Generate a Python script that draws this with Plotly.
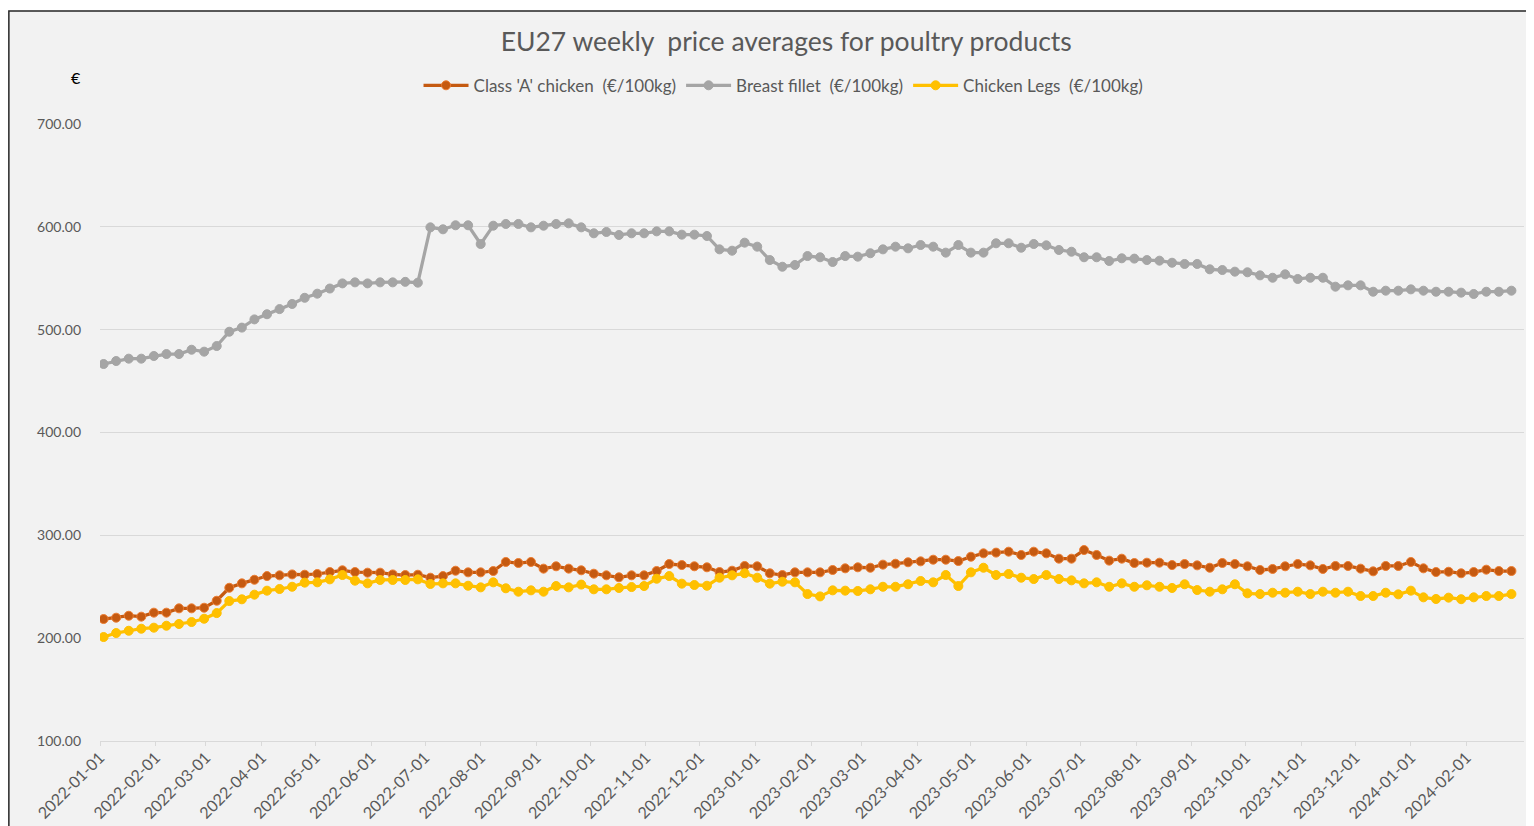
"""EU27 weekly poultry price averages."""

import pandas as pd
import plotly.graph_objects as go

weeks = pd.date_range("2022-01-03", periods=113, freq="7D")

class_a = [
    218.6, 219.9, 221.8, 220.9, 224.8, 224.8, 229.0, 229.0, 229.6, 236.4,
    249.0, 253.3, 256.8, 260.4, 261.1, 262.0, 261.7, 262.4, 264.3, 266.0,
    264.3, 263.7, 263.7, 262.0, 261.4, 261.7, 258.8, 260.4, 265.6,
    264.0, 264.0, 265.3, 274.1, 273.1, 274.1, 267.6, 269.9, 267.6, 266.0,
    262.7, 261.1, 259.2, 261.1, 261.1, 265.3, 272.1, 271.1, 269.9, 268.9,
    264.3, 265.6, 270.2, 269.9, 263.1, 261.4, 264.0, 264.0, 264.0,
    266.3, 267.9, 268.9, 268.5, 271.5, 272.4, 273.8, 274.7, 276.3, 276.3,
    275.0, 279.2, 282.5, 283.2, 284.1, 280.9, 284.1, 282.5, 277.3, 277.3,
    285.7, 280.9, 275.4, 277.3, 273.1, 273.4, 273.4,
    271.1, 272.1, 270.8, 268.5, 273.1, 272.1, 269.9, 266.3, 267.3, 269.9,
    272.1, 270.8, 267.3, 270.2, 270.2, 267.6, 265.0, 270.2, 270.2, 274.1,
    267.9, 264.3, 264.6, 263.1, 264.3, 266.6, 265.3, 265.3,
]

breast_fillet = [
    466.6, 469.5, 471.8, 471.8, 474.4, 476.3, 476.3, 480.5, 478.6, 484.1,
    498.0, 502.0, 510.0, 515.0, 520.0, 525.0, 531.0, 535.0, 540.0, 545.0,
    546.0, 545.0, 546.0, 546.0,
    546.5, 545.7, 599.5, 597.6, 601.5, 601.5, 583.3, 601.1, 602.8, 602.8,
    599.5, 601.1, 602.8, 603.4, 599.5, 593.7, 595.0, 592.1, 593.7, 593.7,
    595.6, 595.6, 592.4, 592.4, 591.1, 578.1, 576.8, 584.6, 580.7, 567.7,
    561.2, 562.9,
    571.6, 570.4, 565.8, 571.6, 571.0, 574.3, 578.1, 580.7, 579.1, 582.3,
    580.7, 574.9, 582.3, 574.9, 574.9, 584.0, 584.0, 579.7, 583.3, 582.0,
    577.5, 575.8, 570.4, 570.4, 566.8, 569.4, 569.1, 567.7, 567.1,
    565.1, 563.9, 563.9, 558.7, 558.0, 556.4, 555.8, 552.8, 550.5, 553.8,
    549.3, 550.5, 550.5, 541.8, 543.1, 543.1, 536.9, 537.9, 537.9, 539.2,
    537.9, 536.9, 536.9, 536.0, 534.7, 536.9, 536.9, 537.9,
]

chicken_legs = [
    201.1, 205.0, 207.2, 209.2, 210.2, 212.1, 213.8, 215.7, 218.9, 224.4,
    236.1, 237.8, 242.3, 246.2, 247.8, 250.0, 254.0, 254.3, 257.2, 261.4,
    255.9, 253.3, 256.6, 256.6, 256.6, 257.2, 252.7, 253.3, 253.3,
    251.0, 249.4, 254.3, 248.5, 245.2, 246.5, 245.2, 250.7, 249.4, 252.1,
    247.5, 247.5, 248.8, 249.7, 250.7, 257.8, 260.4, 253.0, 251.7, 251.0,
    258.8, 261.1, 263.1, 258.8, 253.0, 254.9, 254.3, 242.9, 240.6,
    246.5, 246.2, 245.9, 247.5, 250.0, 250.0, 252.4, 255.6, 254.3, 261.4,
    250.7, 264.0, 268.5, 261.4, 262.4, 258.8, 257.5, 261.4, 257.5, 256.2,
    253.3, 254.3, 250.0, 253.3, 250.0, 251.4, 250.0,
    248.8, 252.4, 246.8, 245.2, 247.5, 252.4, 243.6, 242.9, 244.2, 244.2,
    245.2, 242.9, 245.2, 244.2, 245.2, 241.0, 241.0, 244.2, 242.6, 246.2,
    239.7, 238.1, 239.4, 237.9, 239.7, 241.0, 241.0, 242.9,
]

month_ticks = pd.date_range("2022-01-01", "2024-02-01", freq="MS")

FONT = "Lato"
GREY = "#595959"

# the page body has an 8px margin, so the figure is sized to what is left
W, H = 1526, 818

fig = go.Figure()
series = [
    ("Class 'A' chicken  (€/100kg)", class_a, "#c55a11", "#ed7d31"),
    ("Breast fillet  (€/100kg)", breast_fillet, "#a5a5a5", "#a5a5a5"),
    ("Chicken Legs  (€/100kg)", chicken_legs, "#ffc000", "#ffc000"),
]
for name, values, color, edge in series:
    fig.add_trace(
        go.Scatter(
            x=weeks,
            y=values,
            name=name,
            mode="lines+markers",
            line=dict(color=color, width=3.25),
            marker=dict(size=9, color=color, line=dict(color=edge, width=1)),
        )
    )

fig.add_shape(
    type="rect",
    xref="paper",
    yref="paper",
    x0=-0.064,
    x1=1.05,
    y0=-0.3,
    y1=1.183,
    fillcolor="#f2f2f2",
    line=dict(color="#262626", width=1.5),
    layer="below",
)
fig.add_annotation(
    text="€",
    xref="paper",
    yref="paper",
    x=-0.017,
    y=1.0746,
    xanchor="center",
    yanchor="middle",
    showarrow=False,
    font=dict(family=FONT, size=16, color="#000000"),
)

fig.update_layout(
    width=W,
    height=H,
    margin=dict(l=92, r=10, t=116, b=85),
    paper_bgcolor="#ffffff",
    plot_bgcolor="rgba(0,0,0,0)",
    font=dict(family=FONT, color=GREY, size=13),
    title=dict(
        text="EU27 weekly  price averages for poultry products",
        x=0.51,
        xanchor="center",
        y=1 - 34 / H,
        yanchor="middle",
        font=dict(family=FONT, size=26.5, color=GREY),
    ),
    legend=dict(
        orientation="h",
        x=0.48,
        xanchor="center",
        y=1.062,
        yanchor="middle",
        font=dict(family=FONT, size=17, color=GREY),
        bgcolor="rgba(0,0,0,0)",
        itemwidth=45,
    ),
    showlegend=True,
    xaxis=dict(
        type="date",
        range=["2022-01-01", "2024-03-04"],
        tickmode="array",
        tickvals=month_ticks,
        tickformat="%Y-%m-%d",
        tickangle=-45,
        ticks="outside",
        ticklen=4,
        tickcolor="#d9d9d9",
        ticklabelstandoff=-4,
        showgrid=False,
        showline=True,
        linecolor="#d9d9d9",
        linewidth=1,
        automargin=False,
        tickfont=dict(family=FONT, size=16, color=GREY),
    ),
    yaxis=dict(
        range=[100, 700],
        tickmode="array",
        tickvals=[100, 200, 300, 400, 500, 600, 700],
        tickformat=".2f",
        showgrid=True,
        gridcolor="#d9d9d9",
        gridwidth=1,
        zeroline=False,
        automargin=False,
        ticklabelstandoff=18,
        tickfont=dict(family=FONT, size=14, color=GREY),
    ),
)

fig.write_html("out.html")
